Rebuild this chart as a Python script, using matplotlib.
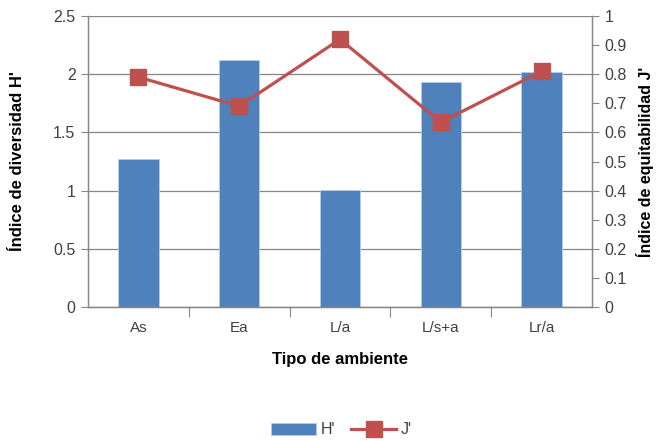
import matplotlib
matplotlib.use("Agg")
import matplotlib.pyplot as plt
from matplotlib.ticker import FixedLocator
import numpy as np

categories = ["As", "Ea", "L/a", "L/s+a", "Lr/a"]
h_values = [1.27, 2.12, 1.005, 1.93, 2.02]
j_values = [0.79, 0.69, 0.92, 0.635, 0.81]
h_ticks = [0, 0.5, 1, 1.5, 2, 2.5]
h_tick_labels = ["0", "0.5", "1", "1.5", "2", "2.5"]
j_ticks = [0, 0.1, 0.2, 0.3, 0.4, 0.5, 0.6, 0.7, 0.8, 0.9, 1.0]
j_tick_labels = ["0", "0.1", "0.2", "0.3", "0.4", "0.5", "0.6", "0.7", "0.8", "0.9", "1"]

bar_color = "#4F81BD"
line_color = "#C0504D"
axis_gray = "#868686"
text_color = "#404040"

plt.rcParams["font.family"] = ["Liberation Sans", "DejaVu Sans"]

fig = plt.figure(figsize=(6.57, 4.41), dpi=100)
ax = fig.add_axes([88 / 657, 1 - 307 / 441, 504 / 657, 291 / 441])
ax2 = ax.twinx()

x = np.arange(len(categories))
ax.bar(x, h_values, width=0.4, color=bar_color, edgecolor="#B9CDE5", linewidth=0.6,
       zorder=2, label="H'")
ax2.plot(x, j_values, color=line_color, linewidth=2.3, marker="s", markersize=11,
         markerfacecolor=line_color, markeredgecolor="#B85450", zorder=3, label="J'")

ax.set_xlim(-0.5, len(categories) - 0.5)
ax.set_yticks(h_ticks, h_tick_labels)
ax2.set_yticks(j_ticks, j_tick_labels)
ax.set_ylim(0, 2.5)
ax2.set_ylim(0, 1)

ax.set_xticks(x)
ax.set_xticklabels(categories)
ax.tick_params(axis="x", length=0, pad=10, labelsize=11, colors=text_color)
ax.xaxis.set_minor_locator(FixedLocator(np.arange(0.5, len(categories) - 1, 1.0)))
ax.tick_params(axis="x", which="minor", length=7, color=axis_gray, width=0.8)
ax.tick_params(axis="y", length=5, color=axis_gray, width=0.8, labelsize=11.5,
               labelcolor=text_color, pad=4)
ax2.tick_params(axis="y", length=5, color=axis_gray, width=0.8, labelsize=11.5,
                labelcolor=text_color, pad=4)

ax.grid(axis="y", color=axis_gray, linewidth=0.9, zorder=0)
ax.set_axisbelow(True)
for a in (ax, ax2):
    a.spines["top"].set_visible(False)
    for side in ("left", "right", "bottom"):
        a.spines[side].set_color(axis_gray)
        a.spines[side].set_linewidth(0.9)

ax.set_xlabel("Tipo de ambiente", fontsize=12, fontweight="bold", labelpad=12,
              color="black")
ax.set_ylabel("Índice de diversidad H'", fontsize=12, fontweight="bold", color="black")
ax.yaxis.set_label_coords(-0.125, 0.5)
ax2.set_ylabel("Índice de equitabilidad J'", fontsize=11.5, fontweight="bold", color="black")
ax2.yaxis.set_label_coords(1.088, 0.5)

handles = [ax.containers[0], ax2.lines[0]]
fig.legend(handles, ["H'", "J'"], loc="center", bbox_to_anchor=(0.52, 1 - 430 / 441),
           ncol=2, frameon=False, fontsize=11.5, handlelength=2.8, columnspacing=1.0,
           handletextpad=0.3, labelcolor=text_color)

fig.savefig("out.png", dpi=100)
